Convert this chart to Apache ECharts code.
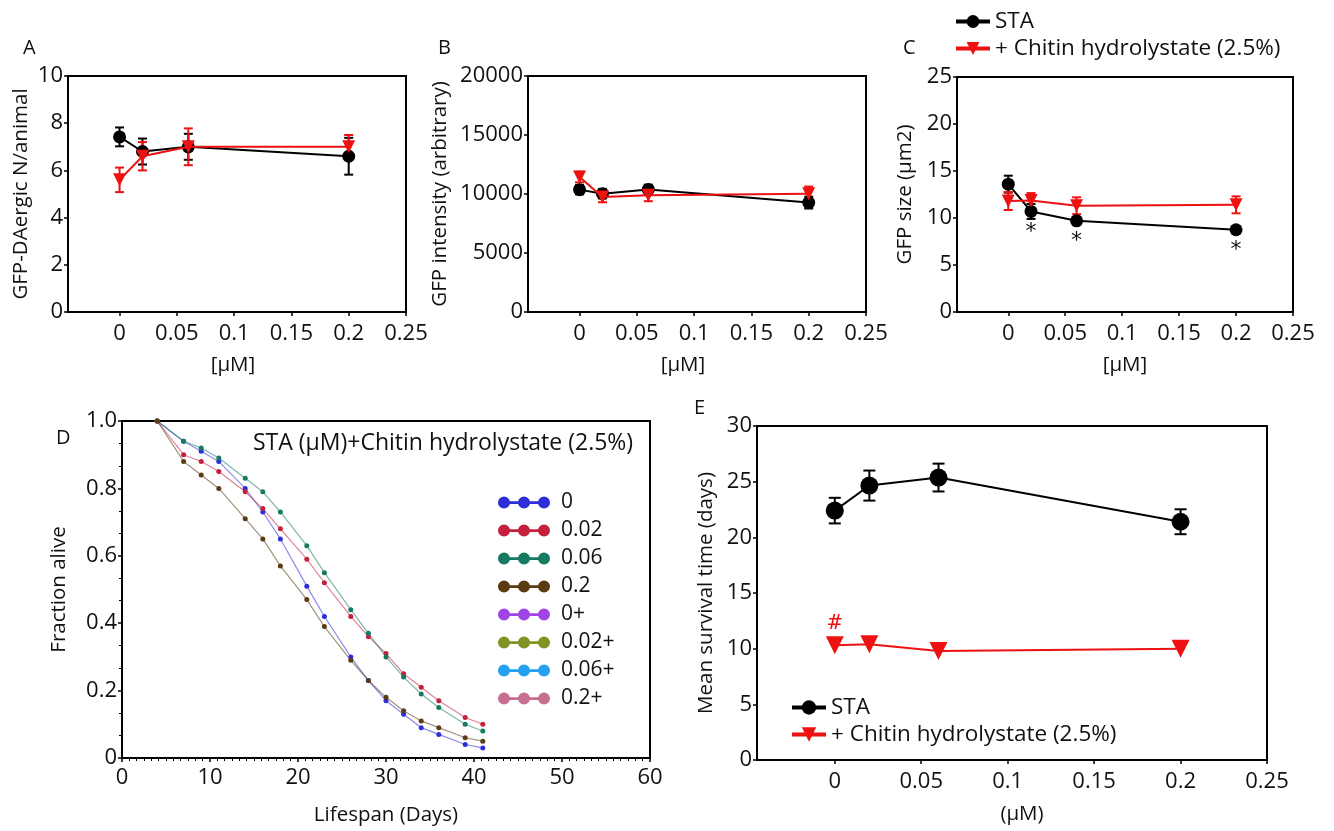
<!DOCTYPE html>
<html>
<head>
<meta charset="utf-8">
<script src="https://cdn.jsdelivr.net/npm/echarts@6/dist/echarts.min.js"></script>
<style>html,body{margin:0;padding:0;background:#fff}#c{width:1334px;height:831px}</style>
</head>
<body>
<div id="c"></div>
<script>
// ---------- DATA ----------
const conc = [0, 0.02, 0.06, 0.2];
const xTicks = [0, 0.05, 0.1, 0.15, 0.2, 0.25];

// Panel A: GFP-DAergic N/animal
const aSTA = [7.42, 6.8, 7.0, 6.6];
const aSTAerr = [0.4, 0.55, 0.55, 0.78];
const aChitin = [5.6, 6.6, 7.0, 7.0];
const aChitinErr = [0.52, 0.6, 0.78, 0.5];

// Panel B: GFP intensity (arbitrary)
const bSTA = [10370, 10030, 10390, 9270];
const bSTAerr = [400, 400, 400, 500];
const bChitin = [11440, 9750, 9890, 10030];
const bChitinErr = [450, 450, 500, 600];

// Panel C: GFP size (µm2)
const cSTA = [13.6, 10.7, 9.7, 8.75];
const cSTAerr = [0.9, 0.8, 0.4, 0.4];
const cChitin = [11.8, 11.85, 11.3, 11.4];
const cChitinErr = [0.95, 0.8, 0.9, 0.9];
const cStars = ['', '*', '*', '*'];

// Panel D: survival curves
const days = [4, 7, 9, 11, 14, 16, 18, 21, 23, 26, 28, 30, 32, 34, 36, 39, 41];
const d0    = [1.0, 0.94, 0.91, 0.88, 0.80, 0.73, 0.65, 0.51, 0.42, 0.30, 0.23, 0.17, 0.13, 0.09, 0.07, 0.04, 0.03];
const d002  = [1.0, 0.90, 0.88, 0.85, 0.79, 0.74, 0.68, 0.59, 0.52, 0.42, 0.36, 0.31, 0.25, 0.21, 0.17, 0.12, 0.10];
const d006  = [1.0, 0.94, 0.92, 0.89, 0.83, 0.79, 0.73, 0.63, 0.55, 0.44, 0.37, 0.30, 0.24, 0.19, 0.15, 0.10, 0.08];
const d02   = [1.0, 0.88, 0.84, 0.80, 0.71, 0.65, 0.57, 0.47, 0.39, 0.29, 0.23, 0.18, 0.14, 0.11, 0.09, 0.06, 0.05];
const dNames = ['0', '0.02', '0.06', '0.2', '0+', '0.02+', '0.06+', '0.2+'];
const dSeries = [d0, d002, d006, d02, [], [], [], []];

// Panel E: Mean survival time (days)
const eSTA = [22.4, 24.65, 25.37, 21.4];
const eSTAerr = [1.15, 1.35, 1.25, 1.12];
const eChitin = [10.3, 10.4, 9.8, 10.0];
const eMarks = ['#', '', '', ''];

// ---------- STYLE ----------
const FONT = '"Open Sans", Lato, sans-serif';
const RED = '#ee1111';
const dColors = ['#2e2ed8', '#c41f3b', '#157a62', '#5a3b12', '#a044e6', '#7f9422', '#23a0f2', '#c66f90'];
const STA_NAME = 'STA';
const CH_NAME = '+ Chitin hydrolystate (2.5%)';

const pts = (ys) => conc.map((x, i) => [x, ys[i]]);
const errPts = (ys, es) => conc.map((x, i) => [x, ys[i], es[i]]);
const fmtX = (v) => String(+(+v).toFixed(2));

function errSeries(gi, ys, es, color, name, cap) {
  return {
    type: 'custom', name: name, xAxisIndex: gi, yAxisIndex: gi, z: 1,
    encode: { x: 0, y: 1 }, silent: true,
    data: errPts(ys, es),
    renderItem: function (params, api) {
      const x = api.value(0), y = api.value(1), e = api.value(2);
      const p1 = api.coord([x, y + e]), p2 = api.coord([x, y - e]);
      const c = cap || 4.5;
      const st = { stroke: color, lineWidth: 2 };
      return { type: 'group', children: [
        { type: 'line', shape: { x1: p1[0], y1: p1[1], x2: p2[0], y2: p2[1] }, style: st },
        { type: 'line', shape: { x1: p1[0] - c, y1: p1[1], x2: p1[0] + c, y2: p1[1] }, style: st },
        { type: 'line', shape: { x1: p2[0] - c, y1: p2[1], x2: p2[0] + c, y2: p2[1] }, style: st }
      ] };
    }
  };
}

function staSeries(gi, ys, size, name, labels) {
  return {
    type: 'line', name: name || STA_NAME, xAxisIndex: gi, yAxisIndex: gi, z: 3,
    symbol: 'circle', symbolSize: size, color: '#000',
    lineStyle: { color: '#000', width: 2 }, itemStyle: { color: '#000' },
    data: pts(ys).map((p, i) => labels && labels[i] ? {
      value: p, label: { show: true, formatter: labels[i], position: 'bottom', distance: 3, fontSize: 22, color: '#111', fontFamily: 'DejaVu Sans, sans-serif' }
    } : p)
  };
}
function chSeries(gi, ys, size, name, labels) {
  return {
    type: 'line', name: name || CH_NAME, xAxisIndex: gi, yAxisIndex: gi, z: 4,
    symbol: 'triangle', symbolRotate: 180, symbolSize: size, color: RED,
    lineStyle: { color: RED, width: 2 }, itemStyle: { color: RED },
    data: pts(ys).map((p, i) => labels && labels[i] ? {
      value: p, label: { show: true, formatter: labels[i], position: 'top', distance: 3, fontSize: 20, color: RED, fontFamily: 'DejaVu Serif, serif' }
    } : p)
  };
}

const axisCommon = {
  axisLine: { show: true, onZero: false, lineStyle: { color: '#000', width: 2 } },
  axisTick: { show: true, length: 4, lineStyle: { color: '#000', width: 1.5 } },
  axisLabel: { color: '#111', fontSize: 22, fontFamily: FONT, margin: 5 },
  splitLine: { show: false },
  nameTextStyle: { color: '#111', fontSize: 20.5, fontFamily: FONT }
};
function concXAxis(gi, gap, nm, pad) {
  return Object.assign({}, axisCommon, {
    type: 'value', gridIndex: gi, min: -0.045, max: 0.25,
    name: nm, nameLocation: 'middle', nameGap: gap,
    nameTextStyle: Object.assign({}, axisCommon.nameTextStyle, { padding: pad || 0 }),
    axisLabel: Object.assign({}, axisCommon.axisLabel, { customValues: xTicks, formatter: fmtX, margin: 11 }),
    axisTick: Object.assign({}, axisCommon.axisTick, { customValues: xTicks })
  });
}
function yAxis(gi, max, interval, nm, gap, fmt) {
  return Object.assign({}, axisCommon, {
    type: 'value', gridIndex: gi, min: 0, max: max, interval: interval,
    name: nm, nameLocation: 'middle', nameGap: gap,
    axisLabel: Object.assign({}, axisCommon.axisLabel, { formatter: fmt || ((v) => String(v)) })
  });
}

const gridBase = { show: true, borderColor: '#000', borderWidth: 2, containLabel: false };
// three dots joined by a bar; all sub-paths wound clockwise so nonzero fill keeps them solid
const dIcon = 'path://M0,6a6,6 0 1,1 12,0a6,6 0 1,1 -12,0Z M20,6a6,6 0 1,1 12,0a6,6 0 1,1 -12,0Z M40,6a6,6 0 1,1 12,0a6,6 0 1,1 -12,0Z M6,4.8h40v2.6h-40Z';

const series = [
  // A
  errSeries(0, aSTA, aSTAerr, '#000', 'errA1'), errSeries(0, aChitin, aChitinErr, RED, 'errA2'),
  staSeries(0, aSTA, 13), chSeries(0, aChitin, 13),
  // B
  errSeries(1, bSTA, bSTAerr, '#000', 'errB1'), errSeries(1, bChitin, bChitinErr, RED, 'errB2'),
  staSeries(1, bSTA, 13), chSeries(1, bChitin, 13),
  // C
  errSeries(2, cSTA, cSTAerr, '#000', 'errC1'), errSeries(2, cChitin, cChitinErr, RED, 'errC2'),
  staSeries(2, cSTA, 13, null, cStars), chSeries(2, cChitin, 13),
  // E
  errSeries(4, eSTA, eSTAerr, '#000', 'errE1', 6),
  staSeries(4, eSTA, 18, STA_NAME + ' (E)'), chSeries(4, eChitin, 18, CH_NAME + ' (E)', eMarks)
];
dSeries.forEach((ys, k) => {
  series.push({
    type: 'line', name: dNames[k], xAxisIndex: 3, yAxisIndex: 3, z: 3,
    symbol: 'circle', symbolSize: 5, color: dColors[k],
    itemStyle: { color: dColors[k] },
    lineStyle: { color: dColors[k], width: 1.2, opacity: 0.55 },
    data: ys.map((v, i) => [days[i], v])
  });
});

const letterStyle = { fontSize: 20, fontWeight: 'normal', color: '#111', fontFamily: FONT };
const option = {
  animation: false,
  backgroundColor: '#fff',
  textStyle: { fontFamily: FONT },
  title: [
    { text: 'A', left: 18, top: 33, textStyle: letterStyle },
    { text: 'B', left: 433, top: 33, textStyle: letterStyle },
    { text: 'C', left: 898, top: 33, textStyle: letterStyle },
    { text: 'D', left: 51, top: 423, textStyle: letterStyle },
    { text: 'E', left: 689, top: 393, textStyle: letterStyle },
    { text: 'STA (µM)+Chitin hydrolystate (2.5%)', left: 248, top: 427, textStyle: { fontSize: 23, fontWeight: 'normal', color: '#111', fontFamily: FONT } }
  ],
  grid: [
    Object.assign({ left: 68, top: 76, width: 338, height: 236 }, gridBase),
    Object.assign({ left: 528, top: 76, width: 338, height: 236 }, gridBase),
    Object.assign({ left: 957, top: 77, width: 336, height: 235 }, gridBase),
    Object.assign({ left: 122, top: 421, width: 528, height: 337 }, gridBase),
    Object.assign({ left: 757, top: 426, width: 510, height: 334 }, gridBase)
  ],
  xAxis: [
    concXAxis(0, 43, '[µM]', [0, 8, 0, 0]),
    concXAxis(1, 43, '[µM]', [0, 28, 0, 0]),
    concXAxis(2, 43, '[µM]'),
    Object.assign({}, axisCommon, {
      type: 'value', gridIndex: 3, min: 0, max: 60, interval: 10,
      name: 'Lifespan (Days)', nameLocation: 'middle', nameGap: 47,
      axisLabel: Object.assign({}, axisCommon.axisLabel, { margin: 9 }),
      minorTick: { show: true, splitNumber: 12, length: 3, lineStyle: { color: '#000', width: 1 } }
    }),
    concXAxis(4, 44, '(µM)', [0, 0, 0, 20])
  ],
  yAxis: [
    yAxis(0, 10, 2, 'GFP-DAergic N/animal', 36),
    yAxis(1, 20000, 5000, 'GFP intensity (arbitrary)', 77),
    yAxis(2, 25, 5, 'GFP size (µm2)', 41),
    Object.assign(yAxis(3, 1, 0.2, 'Fraction alive', 52, (v) => v === 0 ? '0' : v.toFixed(1)), {
      minorTick: { show: true, splitNumber: 3, length: 3, lineStyle: { color: '#000', width: 1 } }
    }),
    yAxis(4, 30, 5, 'Mean survival time (days)', 40)
  ],
  legend: [
    {
      data: [STA_NAME, CH_NAME], orient: 'vertical', left: 949, top: 5, itemGap: 4,
      itemWidth: 34, itemHeight: 16, symbolRotate: 'inherit',
      lineStyle: { width: 4 },
      textStyle: { fontSize: 22.5, color: '#111', fontFamily: FONT }
    },
    {
      data: [STA_NAME + ' (E)', CH_NAME + ' (E)'], orient: 'vertical', left: 785, top: 691, itemGap: 4,
      itemWidth: 34, itemHeight: 18, lineStyle: { width: 4 },
      formatter: (n) => n.replace(' (E)', ''),
      textStyle: { fontSize: 22.5, color: '#111', fontFamily: FONT }
    },
    {
      data: dNames.map((n, k) => ({ name: n, icon: dIcon,
        itemStyle: { color: dColors[k], borderColor: dColors[k], borderWidth: 0, opacity: 1 } })),
      orient: 'vertical', left: 493, top: 487, itemGap: 7,
      itemWidth: 52, itemHeight: 12,
      itemStyle: { opacity: 1, borderWidth: 0 },
      textStyle: { fontSize: 21, color: '#111', fontFamily: FONT, padding: [0, 0, 0, 6] }
    }
  ],
  series: series
};

const chart = echarts.init(document.getElementById('c'), null, { renderer: 'canvas' });
chart.setOption(option);
</script>
</body>
</html>
